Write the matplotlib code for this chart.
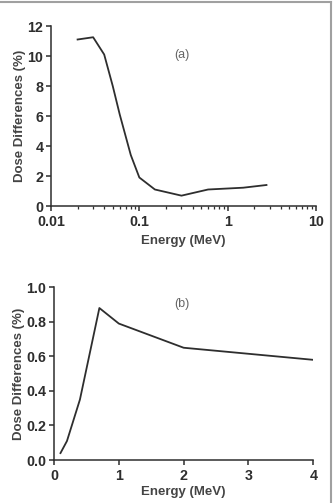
import matplotlib
matplotlib.use("Agg")
import matplotlib.pyplot as plt
from matplotlib.lines import Line2D
from matplotlib.ticker import LogLocator, NullFormatter

# Panel (a) data
energy_a = [0.02, 0.03, 0.04, 0.05, 0.06, 0.08, 0.1, 0.15, 0.3, 0.6, 1.5, 2.75]
dose_a = [11.1, 11.25, 10.1, 8.0, 6.1, 3.4, 1.9, 1.1, 0.69, 1.1, 1.22, 1.4]
xticks_a = [0.01, 0.1, 1, 10]
xticklabels_a = ["0.01", "0.1", "1", "10"]
yticks_a = [0, 2, 4, 6, 8, 10, 12]

# Panel (b) data
energy_b = [0.1, 0.2, 0.4, 0.7, 1.0, 2.0, 4.0]
dose_b = [0.04, 0.11, 0.35, 0.88, 0.79, 0.65, 0.58]
xticks_b = [0, 1, 2, 3, 4]
yticks_b = [0.0, 0.2, 0.4, 0.6, 0.8, 1.0]
yticklabels_b = ["0.0", "0.2", "0.4", "0.6", "0.8", "1.0"]

plt.rcParams['font.family'] = ['Liberation Sans', 'DejaVu Sans']
plt.rcParams['font.weight'] = 'bold'
txt = '#2e2e2e'
W, H = 334, 503
fig = plt.figure(figsize=(W / 100, H / 100), dpi=100)

def style(ax):
    for s in ['top', 'right']:
        ax.spines[s].set_visible(False)
    for s in ['left', 'bottom']:
        ax.spines[s].set_linewidth(1.1)
        ax.spines[s].set_color(txt)
    ax.tick_params(which='major', length=3.5, width=1.1, color=txt,
                   labelsize=10.3, labelcolor=txt, pad=2)
    ax.tick_params(axis='x', which='major', pad=3)
    ax.tick_params(which='minor', length=2, width=0.9, color=txt)

# Panel (a)
ax1 = fig.add_axes([51 / W, 1 - 206 / H, 265 / W, 180 / H])
ax1.plot(energy_a, dose_a, color=txt, lw=1.3)
ax1.set_xscale('log')
ax1.set_xlim(0.01, 10)
ax1.set_ylim(0, 12)
ax1.set_xticks(xticks_a)
ax1.set_xticklabels(xticklabels_a)
ax1.xaxis.set_minor_locator(LogLocator(base=10, subs=range(2, 10)))
ax1.xaxis.set_minor_formatter(NullFormatter())
ax1.set_yticks(yticks_a)
style(ax1)
ax1.set_xlabel('Energy (MeV)', fontsize=9.5, fontweight='bold', color='#444444', labelpad=4)
ax1.set_ylabel('Dose Differences (%)', fontsize=9.5, fontweight='bold', color='#444444', labelpad=1)
ax1.text(182 / W, 1 - 55 / H, '(a)', transform=fig.transFigure, ha='center', va='center',
         fontsize=9, fontweight='normal', color='#666666',
         fontfamily=['Liberation Sans Narrow', 'Liberation Sans', 'DejaVu Sans'])

# Panel (b)
ax2 = fig.add_axes([54 / W, 1 - 460 / H, 259.3 / W, 172.7 / H])
ax2.plot(energy_b, dose_b, color=txt, lw=1.3)
ax2.set_xlim(0, 4)
ax2.set_ylim(0, 1.0)
ax2.set_xticks(xticks_b)
ax2.set_yticks(yticks_b)
ax2.set_yticklabels(yticklabels_b)
style(ax2)
ax2.set_xlabel('Energy (MeV)', fontsize=9.5, fontweight='bold', color='#444444', labelpad=2)
ax2.set_ylabel('Dose Differences (%)', fontsize=9.5, fontweight='bold', color='#444444', labelpad=1)
ax2.text(182 / W, 1 - 304 / H, '(b)', transform=fig.transFigure, ha='center', va='center',
         fontsize=9, fontweight='normal', color='#666666',
         fontfamily=['Liberation Sans Narrow', 'Liberation Sans', 'DejaVu Sans'])

# Frame lines (top and right)
fig.add_artist(Line2D([0, 331 / W], [1 - 2 / H, 1 - 2 / H], transform=fig.transFigure,
                      color='#a0a0a0', lw=1.5))
fig.add_artist(Line2D([331 / W, 331 / W], [0, 1 - 2 / H], transform=fig.transFigure,
                      color='#a0a0a0', lw=1.5))

fig.savefig('out.png', dpi=100)
